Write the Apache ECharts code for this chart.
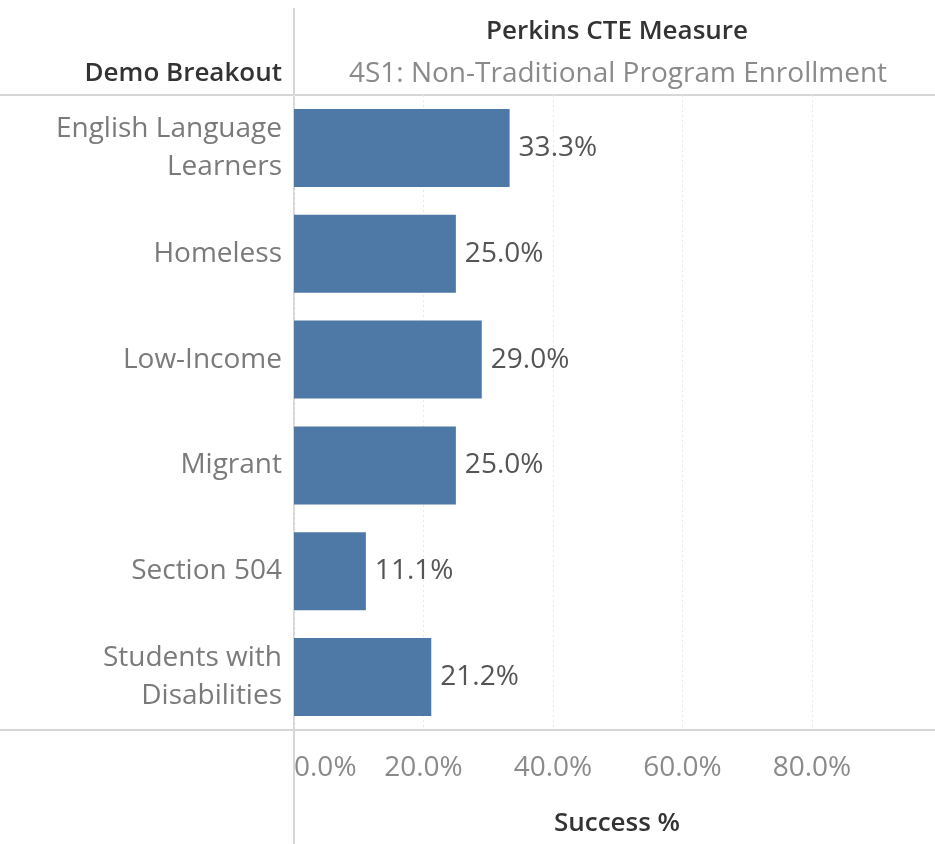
<!DOCTYPE html>
<html>
<head>
<meta charset="utf-8">
<script src="https://cdn.jsdelivr.net/npm/echarts@6/dist/echarts.min.js"></script>
<style>
  html, body { margin: 0; padding: 0; background: #fff; }
  #main { width: 935px; height: 844px; }
</style>
</head>
<body>
<div id="main"></div>
<script>
// 数据
var categories = ['English Language\nLearners', 'Homeless', 'Low-Income', 'Migrant', 'Section 504', 'Students with\nDisabilities'];
var successPct = [33.3, 25.0, 29.0, 25.0, 11.1, 21.2];
var xTicks = [0, 20, 40, 60, 80];

var FONT = '"Open Sans", "Noto Sans", sans-serif';

var myChart = echarts.init(document.getElementById('main'));

myChart.setOption({
  animation: false,
  grid: { left: 294, top: 95, bottom: 114, right: 0, containLabel: false },
  xAxis: {
    type: 'value',
    min: 0,
    max: 99,
    interval: 20,
    axisLine: { show: false },
    axisTick: { show: false },
    splitLine: { show: true, lineStyle: { color: '#e8e8e8', type: [2, 3], width: 1 } },
    axisLabel: {
      margin: 24,
      color: '#8a8a8a',
      fontSize: 28,
      fontFamily: FONT,
      showMaxLabel: false,
      alignMinLabel: 'left',
      formatter: function (v) { return xTicks.indexOf(v) >= 0 ? v.toFixed(1) + '%' : ''; }
    }
  },
  yAxis: {
    type: 'category',
    data: categories,
    inverse: true,
    axisLine: { show: false },
    axisTick: { show: false },
    axisLabel: {
      margin: 12,
      color: '#7a7a7a',
      fontSize: 28,
      lineHeight: 38,
      fontFamily: FONT,
      align: 'right'
    }
  },
  series: [{
    type: 'bar',
    data: successPct,
    barWidth: 78,
    itemStyle: { color: '#4e78a5' },
    label: {
      show: true,
      position: 'right',
      distance: 9,
      color: '#555',
      fontSize: 28,
      fontFamily: FONT,
      formatter: function (p) { return p.value.toFixed(1) + '%'; }
    }
  }],
  graphic: [
    { type: 'line', shape: { x1: 294, y1: 8, x2: 294, y2: 844 }, style: { stroke: '#d6d6d6', lineWidth: 2 } },
    { type: 'line', shape: { x1: 0, y1: 95, x2: 935, y2: 95 }, style: { stroke: '#d6d6d6', lineWidth: 2 } },
    { type: 'line', shape: { x1: 0, y1: 730, x2: 935, y2: 730 }, style: { stroke: '#d6d6d6', lineWidth: 2 } },
    { type: 'text', x: 617, y: 32, style: { text: 'Perkins CTE Measure', align: 'center', verticalAlign: 'middle', fill: '#333', font: '600 26px ' + FONT } },
    { type: 'text', x: 618, y: 74, style: { text: '4S1: Non-Traditional Program Enrollment', align: 'center', verticalAlign: 'middle', fill: '#8a8a8a', font: '28px ' + FONT } },
    { type: 'text', x: 282, y: 74, style: { text: 'Demo Breakout', align: 'right', verticalAlign: 'middle', fill: '#333', font: '600 26px ' + FONT } },
    { type: 'text', x: 617, y: 824, style: { text: 'Success %', align: 'center', verticalAlign: 'middle', fill: '#333', font: '600 26px ' + FONT } }
  ]
});
</script>
</body>
</html>
